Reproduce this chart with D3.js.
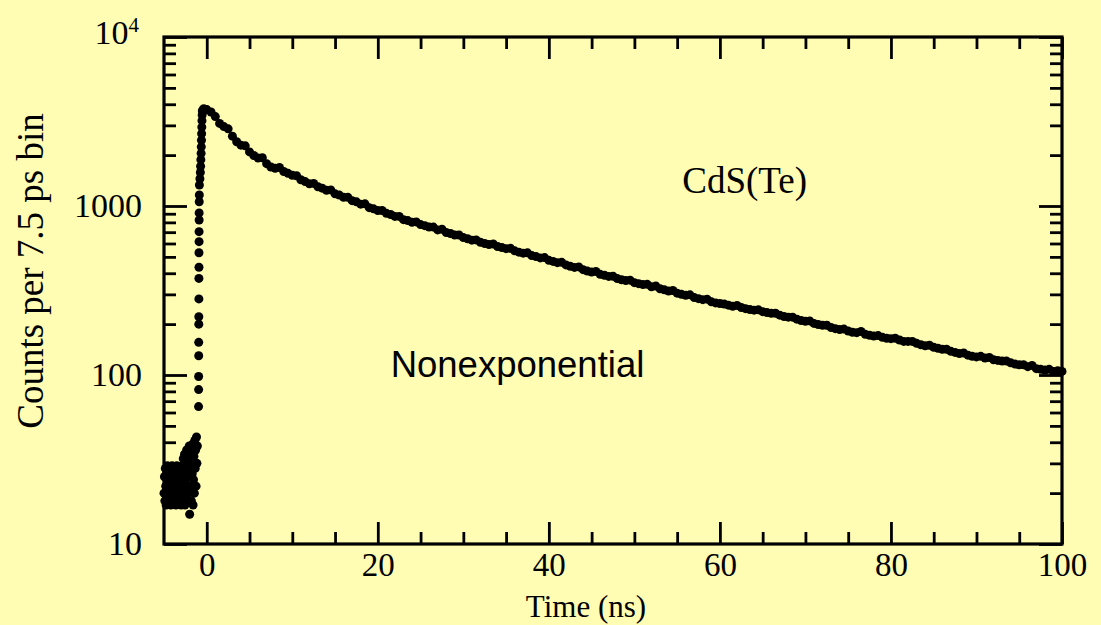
<!DOCTYPE html>
<html>
<head>
<meta charset="utf-8">
<script src="https://cdn.jsdelivr.net/npm/d3@7"></script>
<style>
    body { margin: 0; background: #fffcb3; }
    svg { display: block; }
    .serif { font-family: "Liberation Serif", "Times New Roman", serif; fill: #000; }
    .sans { font-family: "Liberation Sans", Arial, sans-serif; fill: #000; }
</style>
</head>
<body>
<div id="chart"></div>
<script>
// pre-pulse background counts, one point per 0.05 ns from -5 ns
const preStart = -5, preStep = 0.05;
const preCounts = [
    20, 25, 18, 28, 22, 17, 26, 21, 29, 19, 24, 18, 27, 22, 20, 28, 17, 25, 21, 29,
    19, 23, 27, 18, 26, 20, 24, 28, 17, 22, 29, 19, 25, 21, 27, 18, 23, 28, 20, 26,
    17, 24, 29, 21,
    25, 32, 19, 28, 34, 17, 23, 30, 21, 36, 18, 27, 33, 20, 25, 38, 15, 29, 22, 35,
    18, 31, 26, 39, 17, 24, 33, 20, 41, 28, 36, 22, 43, 30, 38
];

// rising edge of the pulse
const riseTime = [-0.96, -0.95, -0.95, -0.94, -0.94, -0.93, -0.93, -0.92, -0.92, -0.91, -0.91, -0.9, -0.9,
    -0.89, -0.89, -0.88, -0.87, -0.86, -0.8, -0.75, -0.72, -0.69, -0.66, -0.64, -0.62, -0.6, -0.58,
    -0.56, -0.54, -0.52, -0.45, -0.35, -0.25, -0.15];
const riseCounts = [65, 82, 98, 130, 156, 200, 221, 282, 373, 434, 529, 615, 705,
    826, 910, 1060, 1161, 1331, 1450, 1580, 1720, 1880, 2050, 2240, 2450, 2680, 2930,
    3200, 3450, 3650, 3700, 3760, 3680, 3730];

// decay, one point per 0.5 ns bin from 0 to 100 ns
const decayStep = 0.5;
const decayCounts = [
    3720, 3600, 3380, 3080, 2950, 2860, 2590, 2400, 2290, 2270,
    2090, 1990, 1920, 1930, 1780, 1700, 1670, 1690, 1600, 1560,
    1520, 1510, 1430, 1395, 1355, 1360, 1300, 1275, 1240, 1245,
    1180, 1160, 1125, 1125, 1075, 1058, 1025, 1030, 978, 962,
    940, 940, 905, 890, 868, 868, 830, 820, 802, 805,
    776, 765, 750, 750, 722, 728, 697, 688, 674, 674,
    650, 640, 628, 630, 610, 600, 592, 596, 576, 568,
    559, 562, 543, 533, 526, 528, 509, 502, 493, 495,
    477, 470, 462, 464, 448, 440, 433, 436, 420, 412,
    407, 410, 394, 389, 383, 384, 372, 366, 362, 364,
    352, 347, 343, 344, 333, 336, 324, 319, 314, 316,
    305, 300, 296, 298, 287, 283, 279, 281, 271, 267,
    265, 263, 259, 255, 258, 251, 247, 244, 242, 243,
    237, 234, 232, 232, 226, 222, 220, 220, 214, 210,
    208, 209, 202, 199, 197, 197, 191, 188, 186, 187,
    182, 179, 178, 181, 174, 172, 170, 171, 167, 165,
    164, 165, 161, 158, 158, 158, 154, 151, 149, 150,
    146, 144, 142, 142, 138, 136, 134, 135, 131, 129,
    128, 129, 126, 127, 123, 122, 121, 121, 118, 116,
    115, 115, 112, 114, 109, 108, 107, 108, 105, 106,
    105
];

const xTicks = [0, 20, 40, 60, 80, 100];
const xMinor = [5, 10, 15, 25, 30, 35, 45, 50, 55, 65, 70, 75, 85, 90, 95];
const yTicks = [10, 100, 1000, 10000];

const annotations = [
    { text: "CdS(Te)", t: 55.6, c: 1190, cls: "serif", size: 37 },
    { text: "Nonexponential", t: 21.5, c: 97, cls: "sans", size: 36.5 }
];

let points = [];
preCounts.forEach((c, i) => points.push({ t: preStart + i * preStep, c: c }));
riseTime.forEach((t, i) => points.push({ t: t, c: riseCounts[i] }));
decayCounts.forEach((c, i) => points.push({ t: i * decayStep, c: c }));

const W = 1101, H = 625;
const margin = { top: 37, right: 39, bottom: 81, left: 164 };
const width = W - margin.left - margin.right;
const height = H - margin.top - margin.bottom;

const svg = d3.select("#chart").append("svg")
    .attr("width", W)
    .attr("height", H);

svg.append("rect").attr("width", W).attr("height", H).attr("fill", "#fffcb3");

const g = svg.append("g")
    .attr("transform", `translate(${margin.left}, ${margin.top})`);

const x = d3.scaleLinear().domain([-5, 100]).range([0, width]);
const y = d3.scaleLog().domain([10, 10000]).range([height, 0]);

let yMinor = [];
[10, 100, 1000].forEach(d => { for (let k = 2; k <= 9; k++) yMinor.push(d * k); });

function styleAxis(sel, sw) {
    sel.select(".domain").remove();
    sel.selectAll(".tick line").attr("stroke", "#000").attr("stroke-width", sw);
}

// bottom
g.append("g").attr("transform", `translate(0, ${height})`)
    .call(d3.axisBottom(x).tickValues(xTicks).tickSize(-22).tickPadding(9).tickSizeOuter(0))
    .call(s => styleAxis(s, 2.8))
    .selectAll("text").attr("class", "serif").attr("font-size", 33);
g.append("g").attr("transform", `translate(0, ${height})`)
    .call(d3.axisBottom(x).tickValues(xMinor).tickSize(-12).tickFormat(""))
    .call(s => styleAxis(s, 2.8));
// top
g.append("g")
    .call(d3.axisTop(x).tickValues(xTicks).tickSize(-22).tickFormat(""))
    .call(s => styleAxis(s, 2.8));
g.append("g")
    .call(d3.axisTop(x).tickValues(xMinor).tickSize(-12).tickFormat(""))
    .call(s => styleAxis(s, 2.8));

// left
const yAx = g.append("g")
    .call(d3.axisLeft(y).tickValues(yTicks).tickSize(-23).tickPadding(22).tickFormat(d3.format("d")))
    .call(s => styleAxis(s, 2.8));
yAx.selectAll("text").attr("class", "serif").attr("font-size", 34);
yAx.selectAll(".tick").filter(d => d === 10000).select("text")
    .text("10")
    .attr("x", -25)
    .attr("dy", "0.2em")
    .append("tspan").attr("baseline-shift", "super").attr("font-size", 21).text("4");
g.append("g")
    .call(d3.axisLeft(y).tickValues(yMinor).tickSize(-12).tickFormat(""))
    .call(s => styleAxis(s, 2.8));
// right
g.append("g").attr("transform", `translate(${width}, 0)`)
    .call(d3.axisRight(y).tickValues(yTicks).tickSize(-23).tickFormat(""))
    .call(s => styleAxis(s, 2.8));
g.append("g").attr("transform", `translate(${width}, 0)`)
    .call(d3.axisRight(y).tickValues(yMinor).tickSize(-12).tickFormat(""))
    .call(s => styleAxis(s, 2.8));

// frame
g.append("rect")
    .attr("width", width).attr("height", height)
    .attr("fill", "none").attr("stroke", "#000").attr("stroke-width", 3.2);

// data
g.selectAll(".dot")
    .data(points)
    .enter().append("circle")
    .attr("class", "dot")
    .attr("cx", d => x(d.t))
    .attr("cy", d => y(d.c))
    .attr("r", 4.5)
    .attr("fill", "#000");

// labels
g.selectAll(".note")
    .data(annotations)
    .enter().append("text")
    .attr("class", d => "note " + d.cls)
    .attr("x", d => x(d.t))
    .attr("y", d => y(d.c))
    .attr("font-size", d => d.size)
    .text(d => d.text);

svg.append("text")
    .attr("class", "serif")
    .attr("x", 586).attr("y", 617)
    .attr("text-anchor", "middle")
    .attr("font-size", 31)
    .text("Time (ns)");

svg.append("text")
    .attr("class", "serif")
    .attr("text-anchor", "middle")
    .attr("transform", "translate(43, 271) rotate(-90)")
    .attr("font-size", 37)
    .text("Counts per 7.5 ps bin");
</script>
</body>
</html>
